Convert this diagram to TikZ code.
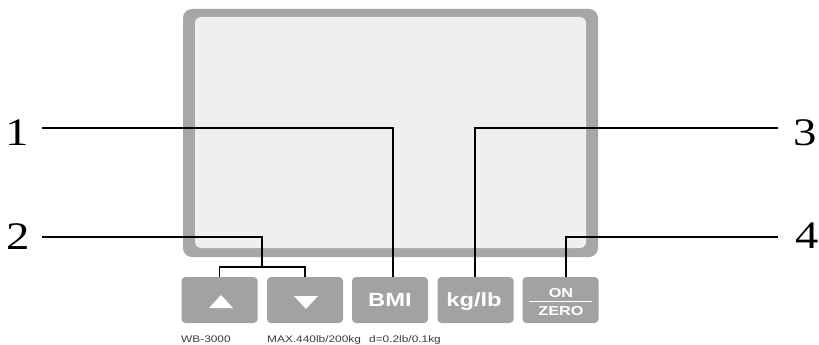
\documentclass[tikz,border=0pt]{standalone}
\usepackage{fontspec}
\setmainfont{Liberation Serif}
\newfontfamily\numfont[FakeStretch=1.2]{Liberation Serif}
\newfontfamily\btnfont[FakeStretch=1.25]{Liberation Sans}
\definecolor{scrborder}{HTML}{A7A7A7}
\definecolor{scrface}{HTML}{EFEFEF}
\definecolor{btngray}{HTML}{A2A2A2}
\definecolor{smalltext}{HTML}{3C3C3C}
\tikzset{
  btnbox/.style={fill=btngray, rounded corners=4pt, minimum width=76pt, minimum height=46pt, inner sep=0pt},
  btntext/.style={text=white, font=\btnfont\bfseries\fontsize{19}{19}\selectfont, anchor=base, inner sep=0pt},
  smalltxt/.style={text=white, font=\btnfont\bfseries\fontsize{13}{13}\selectfont, anchor=base, inner sep=0pt},
  numlabel/.style={font=\numfont\fontsize{39}{39}\selectfont, anchor=base, inner sep=0pt},
  infotxt/.style={text=smalltext, font=\btnfont\fontsize{9.5}{9.5}\selectfont, anchor=base west, inner sep=0pt},
  leader/.style={draw=black, line width=1.2pt}
}
\begin{document}
\begin{tikzpicture}[x=1pt,y=-1pt]
\useasboundingbox[fill=white] (0,0) rectangle (819,345);
% screen
\path[fill=scrborder, rounded corners=9pt] (183,9) rectangle (598,257);
\path[fill=scrface, rounded corners=6pt] (195,17) rectangle (586,248);
% buttons
\node[btnbox] (up) at (219.5,300) {};
\node[btnbox] (down) at (305,300) {};
\node[btnbox] (bmi) at (390,300) {};
\node[btnbox] (kg) at (475.5,300) {};
\node[btnbox] (on) at (560.5,300) {};
\fill[white] (209,308) -- (233,308) -- (221,295) -- cycle;
\fill[white] (294,296) -- (318,296) -- (306,309) -- cycle;
\node[btntext] (bmit) at (390,306.5) {BMI};
\node[btntext] (kgt) at (474,306.5) {kg/lb};
\node[smalltxt] (ont) at (561,297) {ON};
\node[smalltxt] (zerot) at (561,315.5) {ZERO};
\draw[white, line width=1pt] (529,301) -- (592,301);
% info text
\node[infotxt] (model) at (181,342) {WB-3000};
\node[infotxt] (max) at (267,342) {MAX.440lb/200kg};
\node[infotxt] (res) at (369,342) {d=0.2lb/0.1kg};
% labels
\node[numlabel] (n1) at (17,145) {1};
\node[numlabel] (n2) at (18,249) {2};
\node[numlabel] (n3) at (805,145) {3};
\node[numlabel] (n4) at (807,248) {4};
% leader coordinates
\coordinate (a1) at (42,128);
\coordinate (a2) at (42,237);
\coordinate (a3) at (778,128);
\coordinate (a4) at (778,237);
\coordinate (j1) at (393,128);
\coordinate (j2) at (262,237);
\coordinate (j2b) at (262,267);
\coordinate (j3) at (475,128);
\coordinate (j4) at (566,237);
% leaders
\draw[leader] (a1) -- (j1) -- (j1 |- bmi.north);
\draw[leader] (a3) -- (j3) -- (j3 |- kg.north);
\draw[leader] (a4) -- (j4) -- (j4 |- on.north);
\draw[leader] (a2) -- (j2) -- (j2b);
\draw[leader] (up.north) |- (j2b) -| (down.north);
\end{tikzpicture}
\end{document}
